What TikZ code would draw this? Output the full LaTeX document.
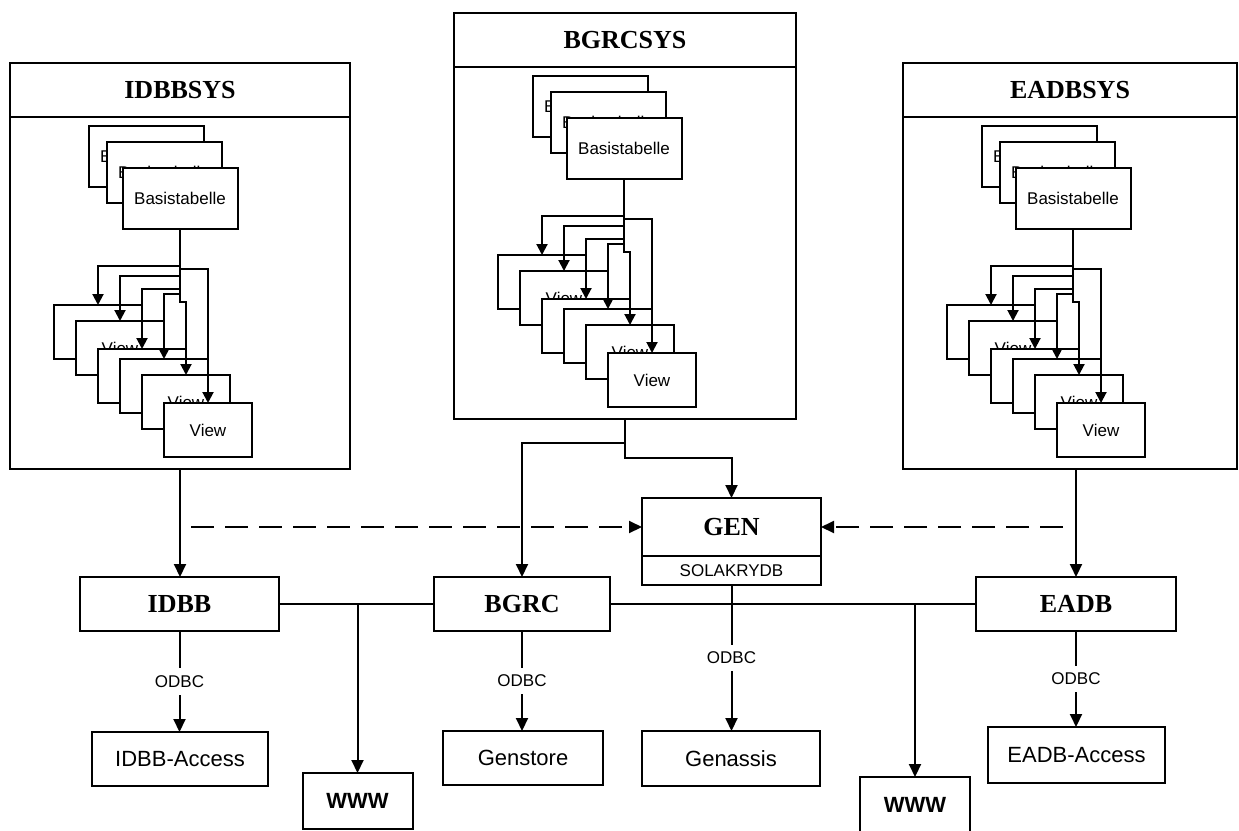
\documentclass[tikz,border=0pt]{standalone}
\usepackage{fontspec}
\setmainfont{Liberation Serif}
\newfontfamily\arialf{Liberation Sans}
\usetikzlibrary{arrows.meta,calc}
\tikzset{
 every node/.style={inner sep=0pt, outer sep=0pt},
 ln/.style={line width=2pt},
 plainbox/.style={draw, line width=2pt, fill=white, rectangle, font=\arialf\fontsize{17}{20}\selectfont},
 bigbox/.style={plainbox, font=\arialf\fontsize{22}{26}\selectfont},
 dbbox/.style={plainbox, font=\bfseries\fontsize{26}{30}\selectfont},
 wwwbox/.style={plainbox, minimum width=110pt, font=\arialf\bfseries\fontsize{22}{26}\selectfont},
 tabbox/.style={plainbox, minimum width=115pt, minimum height=61pt},
 viewbox/.style={plainbox, minimum width=88pt, minimum height=54pt},
 arr/.style={ln, -{Triangle[width=12pt,length=13pt]}},
 sarr/.style={ln, -{Triangle[width=11pt,length=11pt]}},
 dsh/.style={ln, dash pattern=on 23pt off 11pt},
 lbl/.style={fill=white, inner xsep=2pt, inner ysep=7pt, font=\arialf\fontsize{17}{20}\selectfont},
}
% #1 prefix, #2 left, #3 top, #4 width, #5 bottom, #6 title
\newcommand{\sysstack}[6]{%
 \node[dbbox, minimum width=#4pt, minimum height=54pt] (#1t) at ({#2+#4/2},{#3+27}) {#6};
 \node[plainbox, minimum width=#4pt, minimum height={#5-#3-54}] (#1sys) at ({#2+#4/2},{(#3+54+#5)/2}) {};
 \node[tabbox] (#1b1) at ({#2+136},{#3+93}) {Basistabelle};
 \node[tabbox] (#1b2) at ({#2+154},{#3+109}) {Basistabelle};
 \node[tabbox] (#1b3) at ({#2+170},{#3+135}) {Basistabelle};
 \node[viewbox] (#1v1) at ({#2+88},{#3+269}) {View};
 \node[viewbox] (#1v2) at ({#2+110},{#3+285}) {View};
 \node[viewbox] (#1v3) at ({#2+132},{#3+313}) {View};
 \node[viewbox] (#1v4) at ({#2+154},{#3+323}) {View};
 \node[viewbox] (#1v5) at ({#2+176},{#3+339}) {View};
 \node[viewbox] (#1v6) at ({#2+198},{#3+367}) {View};
 \draw[sarr] (#1b3.south) -- ++(0,37) -| (#1v1.north);
 \draw[sarr] (#1b3.south) -- ++(0,40) -| (#1v6.north);
 \draw[sarr] (#1b3.south) -- ++(0,47) -| (#1v2.north);
 \draw[sarr] (#1b3.south) -- ++(0,60) -| (#1v3.north);
 \draw[sarr] (#1b3.south) -- ++(0,65) -| (#1v4.north);
 \draw[sarr] (#1b3.south) -- ++(0,73) -| (#1v5.north);
}
\begin{document}
\begin{tikzpicture}[x=1pt,y=-1pt]
\useasboundingbox (0,0) rectangle (1239,830);
\sysstack{I}{10}{63}{340}{469}{IDBBSYS}
\sysstack{B}{454}{13}{342}{419}{BGRCSYS}
\sysstack{E}{903}{63}{334}{469}{EADBSYS}

\node[dbbox, minimum width=199pt, minimum height=54pt] (IDBB) at (179.5,604) {IDBB};
\node[dbbox, minimum width=176pt, minimum height=54pt] (BGRC) at (522,604) {BGRC};
\node[dbbox, minimum width=200pt, minimum height=54pt] (EADB) at (1076,604) {EADB};
\node[dbbox, minimum width=179pt, minimum height=58pt] (GEN) at (731.5,527) {GEN};
\node[plainbox, minimum width=179pt, minimum height=29pt] (SOLA) at (731.5,570.5) {SOLAKRYDB};

\node[bigbox, minimum width=176pt, minimum height=54pt] (IAcc) at (180,759) {IDBB-Access};
\node[bigbox, minimum width=160pt, minimum height=54pt] (GStore) at (523,758) {Genstore};
\node[bigbox, minimum width=178pt, minimum height=55pt] (GAss) at (731,758.5) {Genassis};
\node[bigbox, minimum width=177pt, minimum height=56pt] (EAcc) at (1076.5,755) {EADB-Access};
\node[wwwbox, minimum height=56pt] (W1) at (357.5,801) {WWW};
\node[wwwbox, minimum height=56pt] (W2) at (915,805) {WWW};

% system to database
\draw[arr] (Isys.south) -- (Isys.south |- IDBB.north);
\draw[arr] (EADB.north |- Esys.south) -- (EADB.north);
\draw[arr] (Bsys.south) -- ++(0,24) -| (BGRC.north);
\draw[arr] (Bsys.south) -- ++(0,39) -| (GEN.north);

% dashed
\coordinate (dl) at (191,527);
\coordinate (dr) at (1063,527);
\draw[dsh, -{Triangle[width=12pt,length=13pt]}] (dl) -- (GEN.west);
\draw[dsh, -{Triangle[width=12pt,length=13pt]}] (dr) -- (GEN.east);

% bus
\draw[ln] (IDBB.east) -- (BGRC.west);
\draw[ln] (BGRC.east) -- (EADB.west);
\draw[arr] (W1.north |- IDBB.east) -- (W1.north);
\draw[arr] (W2.north |- EADB.west) -- (W2.north);

% ODBC
\draw[arr] (IDBB.south) -- (IDBB.south |- IAcc.north) node[lbl, midway] {ODBC};
\draw[arr] (BGRC.south) -- (BGRC.south |- GStore.north) node[lbl, midway] {ODBC};
\draw[arr] (SOLA.south) -- (SOLA.south |- GAss.north) node[lbl, midway] {ODBC};
\draw[arr] (EADB.south) -- (EADB.south |- EAcc.north) node[lbl, midway] {ODBC};
\end{tikzpicture}
\end{document}
